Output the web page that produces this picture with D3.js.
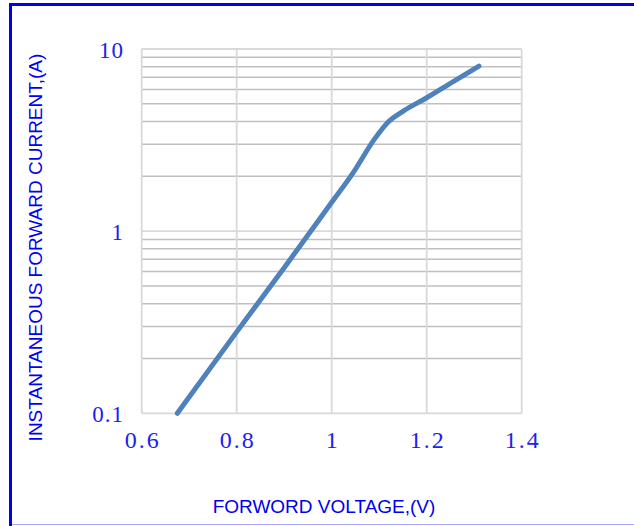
<!DOCTYPE html>
<html><head><meta charset="utf-8">
<script src="https://cdn.jsdelivr.net/npm/d3@7/dist/d3.min.js"></script>
<style>
html,body{margin:0;padding:0;background:#fff;}
svg{display:block;}
</style></head>
<body>
<svg id="chart" width="634" height="526"></svg>
<script>
// Data
const voltage = [0.675, 0.8, 0.9, 1.0, 1.045, 1.09, 1.12, 1.15, 1.2, 1.255, 1.31];
const current = [0.1, 0.28, 0.63, 1.44, 2.09, 3.2, 4.0, 4.55, 5.4, 6.6, 8.05];
const xTicks = [0.6, 0.8, 1.0, 1.2, 1.4];
const xTickLabels = ["0.6", "0.8", "1", "1.2", "1.4"];
const yMajor = [0.1, 1, 10];
const yTickLabels = ["0.1", "1", "10"];
const yMinor = [0.2,0.3,0.4,0.5,0.6,0.7,0.8,0.9,2,3,4,5,6,7,8,9];
const xTitle = "FORWORD VOLTAGE,(V)";
const yTitle = "INSTANTANEOUS FORWARD CURRENT,(A)";

const svg = d3.select("#chart");
const W = 634, H = 526;

// frame
svg.append("rect").attr("x",9).attr("y",3).attr("width",W-9).attr("height",3).attr("fill","#0000ee");
svg.append("rect").attr("x",9).attr("y",3).attr("width",3).attr("height",H-3).attr("fill","#0000ee");
svg.append("line").attr("x1",12).attr("x2",W).attr("y1",524.5).attr("y2",524.5).attr("stroke","#a8a8ff").attr("stroke-width",1);

const x = d3.scaleLinear().domain([0.6,1.4]).range([141.7,521.7]);
const y = d3.scaleLog().domain([0.1,10]).range([413.3,49]);

const g = svg.append("g");
// minor horizontal grid (darker)
g.selectAll("line.minor").data(yMinor).join("line")
  .attr("x1",x(0.6)).attr("x2",x(1.4))
  .attr("y1",d=>y(d)).attr("y2",d=>y(d))
  .attr("stroke","#bfbfbf").attr("stroke-width",1.5);
// major horizontal grid
g.selectAll("line.major").data(yMajor).join("line")
  .attr("x1",x(0.6)).attr("x2",x(1.4))
  .attr("y1",d=>y(d)).attr("y2",d=>y(d))
  .attr("stroke","#d9d9d9").attr("stroke-width",1.8);
// vertical grid
g.selectAll("line.vx").data(xTicks).join("line")
  .attr("x1",d=>x(d)).attr("x2",d=>x(d))
  .attr("y1",y(10)).attr("y2",y(0.1))
  .attr("stroke","#d9d9d9").attr("stroke-width",1.8);

// x tick labels
const tickFont = "'Liberation Serif','DejaVu Serif',serif";
svg.selectAll("text.xt").data(xTicks).join("text")
  .attr("x",d=>x(d)+1).attr("y",448)
  .attr("text-anchor","middle")
  .attr("font-family",tickFont).attr("font-size",24)
  .attr("letter-spacing","2px")
  .attr("fill","#2020f0")
  .text((d,i)=>xTickLabels[i]);
// y tick labels
svg.selectAll("text.yt").data(yMajor).join("text")
  .attr("x",124).attr("y",d=>y(d)+8.5)
  .attr("text-anchor","end")
  .attr("font-family",tickFont).attr("font-size",23)
  .attr("letter-spacing","1px")
  .attr("fill","#2020f0")
  .text((d,i)=>yTickLabels[i]);

// curve
const pts = voltage.map((v,i)=>[v,current[i]]);
const line = d3.line().x(d=>x(d[0])).y(d=>y(d[1])).curve(d3.curveMonotoneX);
svg.append("path").attr("d",line(pts))
  .attr("fill","none").attr("stroke","#4f81bd").attr("stroke-width",5)
  .attr("stroke-linecap","round").attr("stroke-linejoin","round");

// axis titles
const titleFont = "'Liberation Sans',Arial,sans-serif";
svg.append("text").attr("x",324).attr("y",513)
  .attr("text-anchor","middle").attr("font-family",titleFont).attr("font-size",19)
  .attr("fill","#0000ee").text(xTitle);
svg.append("text").attr("transform","translate(42,247.5) rotate(-90)")
  .attr("text-anchor","middle").attr("font-family",titleFont).attr("font-size",19)
  .attr("fill","#0000ee").text(yTitle);
</script>
</body></html>
